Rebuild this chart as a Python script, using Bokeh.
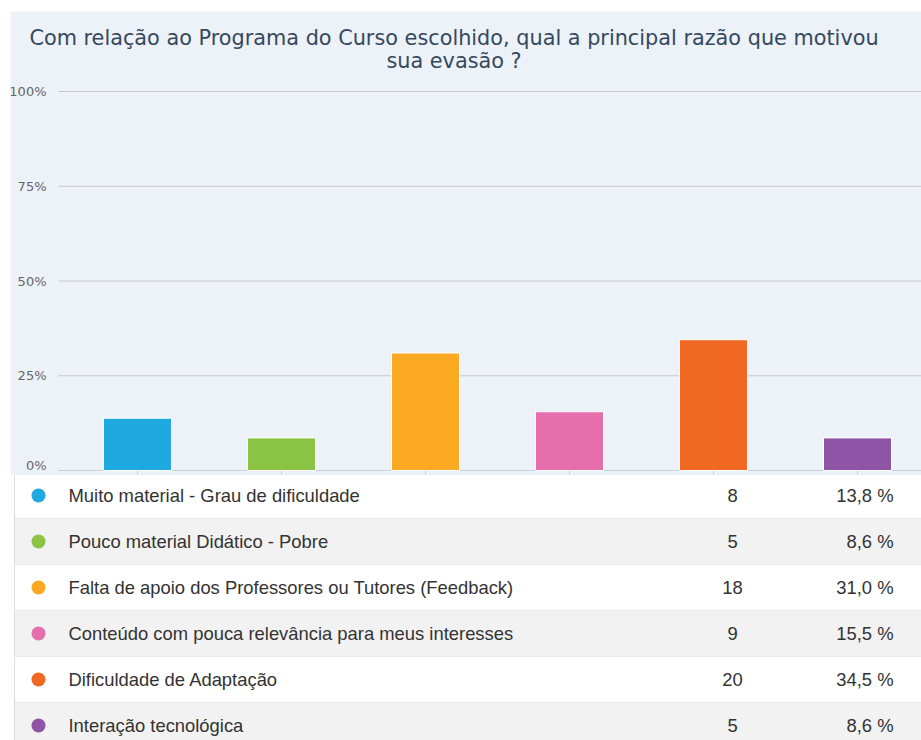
from bokeh.plotting import figure
from bokeh.models import Range1d, ColumnDataSource
from bokeh.embed import file_html
from bokeh.resources import INLINE
from bokeh.core.properties import value

# ---- data ----
title_lines = [
    "Com relação ao Programa do Curso escolhido, qual a principal razão que motivou",
    "sua evasão ?",
]
categories = [
    "Muito material - Grau de dificuldade",
    "Pouco material Didático - Pobre",
    "Falta de apoio dos Professores ou Tutores (Feedback)",
    "Conteúdo com pouca relevância para meus interesses",
    "Dificuldade de Adaptação",
    "Interação tecnológica",
]
counts = [8, 5, 18, 9, 20, 5]
percents = [13.8, 8.6, 31.0, 15.5, 34.5, 8.6]
colors = ["#1EA9E1", "#8BC443", "#FBA923", "#E66EAC", "#F16823", "#8E54A5"]
tick_values = [0, 25, 50, 75, 100]
tick_labels = ["0%", "25%", "50%", "75%", "100%"]

BG = "#EDF1F8"
TITLE_FONT = "DejaVu Sans"
TABLE_FONT = "Liberation Sans"

# ---- layout constants (page pixels) ----
PX_PER_CAT = 144.0        # horizontal pixels per category
CAT0_PX = 137.0           # page x of first category centre
PX_PER_PCT = 3.79         # vertical pixels per percent
ZERO_PX = 470.0           # page y of the 0 % line
FIG_LEFT, FIG_RIGHT, FIG_TOP, FIG_BOTTOM = 10, 921, 11, 475
TABLE_TOP = 472           # page y where the first table row begins
ROW_H = 46.0
ZERO_LABEL_LIFT = 5       # px the "0%" label is lifted so it stays inside


def xc(px):  # page x -> category coordinate
    return (px - CAT0_PX) / PX_PER_CAT + 0.5


def yc(py):  # page y -> percent coordinate
    return (ZERO_PX - py) / PX_PER_PCT


# ---- bar chart (title, axis labels and grid drawn in the same frame) ----
idx = list(range(len(categories)))
bar_src = ColumnDataSource(dict(
    x=[i + 0.5 for i in idx],
    top=percents,
    color=colors,
))

p = figure(
    width=FIG_RIGHT - FIG_LEFT, height=FIG_BOTTOM - FIG_TOP,
    x_range=Range1d(xc(FIG_LEFT), xc(FIG_RIGHT)),
    y_range=Range1d(yc(FIG_BOTTOM), yc(FIG_TOP)),
    output_backend="svg", toolbar_location=None, title=None,
    x_axis_location=None, y_axis_location=None,
    min_border=0, background_fill_color=BG, border_fill_color=BG,
    outline_line_color=None,
    margin=(FIG_TOP, 0, 0, FIG_LEFT),
)
p.grid.visible = False

# gridlines at the tick values
grid_src = ColumnDataSource(dict(
    y=tick_values, label=tick_labels,
    ly=[v + (ZERO_LABEL_LIFT / PX_PER_PCT if v == 0 else 0) for v in tick_values],
    lc=["#C5CFDD" if v == 0 else "#C8C8C8" for v in tick_values],
))
p.segment(x0=xc(58), x1=xc(FIG_RIGHT), y0="y", y1="y", line_color="lc",
          line_width=1, source=grid_src)
p.text(x=xc(46), y="ly", text="label", text_align="right", text_baseline="middle",
       text_font=value(TITLE_FONT), text_font_size="13px", text_color="#666666",
       source=grid_src)

# small category ticks under the baseline
p.segment(x0="x", x1="x", y0=0, y1=-4 / PX_PER_PCT, line_color="#C5CFDD",
          line_width=1, source=bar_src)

p.vbar(x="x", top="top", width=68 / PX_PER_CAT, fill_color="color", line_color="white",
       line_width=1, source=bar_src)

# title
p.text(x=[xc(453.5)] * 2, y=[yc(37), yc(60)], text=title_lines,
       text_align="center", text_baseline="middle",
       text_font=value(TITLE_FONT), text_font_size="20.8px", text_color="#34495E")

# ---- table ----
row_fill = ["#FFFFFF" if i % 2 == 0 else "#F2F2F2" for i in idx]
tab_src = ColumnDataSource(dict(
    top=[i for i in idx],
    bottom=[i + 1 for i in idx],
    mid=[i + 0.5 for i in idx],
    label=categories,
    count=[str(c) for c in counts],
    pct=[f"{v:.1f}".replace(".", ",") + " %" for v in percents],
    color=colors,
    fill=row_fill,
))

t_top = (FIG_BOTTOM - TABLE_TOP) / ROW_H
t = figure(
    width=921, height=740 - FIG_BOTTOM,
    x_range=Range1d(0, 921),
    y_range=Range1d(t_top + (740 - FIG_BOTTOM) / ROW_H, t_top),
    output_backend="svg", toolbar_location=None, title=None,
    x_axis_location=None, y_axis_location=None,
    min_border=0, outline_line_color=None,
    background_fill_color="white", border_fill_color="white",
)
t.grid.visible = False
t.quad(left=14, right=921, top="top", bottom="bottom", fill_color="fill",
       line_color=None, source=tab_src)
t.segment(x0=14, x1=921, y0="bottom", y1="bottom", line_color="#E9E9E9",
          line_width=1, source=tab_src)
t.segment(x0=14, x1=14, y0="top", y1="bottom", line_color="#DCDCDC",
          line_width=1, source=tab_src)
t.scatter(x=38, y="mid", size=14, fill_color="color", line_color=None, source=tab_src)
t.text(x=68, y="mid", text="label", text_font=value(TABLE_FONT), text_font_size="18.4px",
       text_baseline="middle", text_align="left", text_color="#333333", source=tab_src)
t.text(x=732, y="mid", text="count", text_font=value(TABLE_FONT), text_font_size="18.4px",
       text_baseline="middle", text_align="center", text_color="#333333", source=tab_src)
t.text(x=893, y="mid", text="pct", text_font=value(TABLE_FONT), text_font_size="18.4px",
       text_baseline="middle", text_align="right", text_color="#333333", source=tab_src)

open("out.html", "w").write(file_html([p, t], INLINE))
